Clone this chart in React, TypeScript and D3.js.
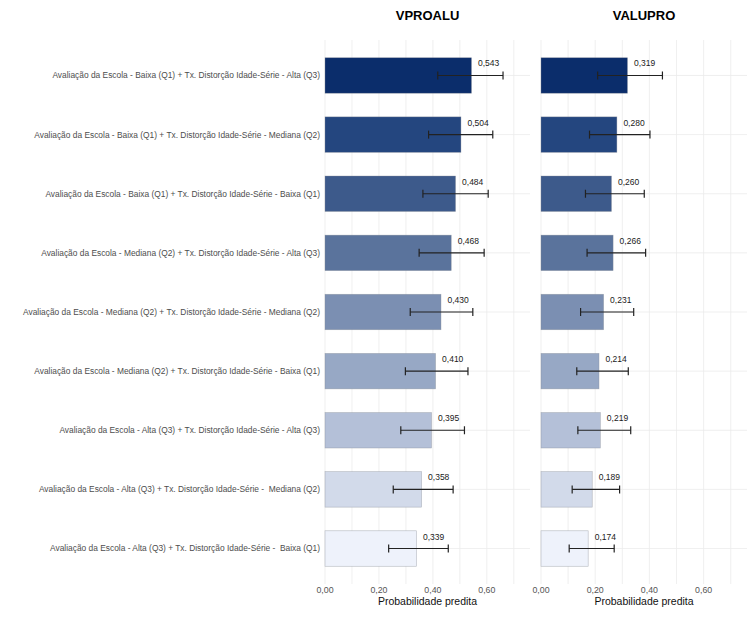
import React from "react";
import * as d3 from "d3";

const categories = [
  "Avaliação da Escola - Baixa (Q1) + Tx. Distorção Idade-Série - Alta (Q3)",
  "Avaliação da Escola - Baixa (Q1) + Tx. Distorção Idade-Série - Mediana (Q2)",
  "Avaliação da Escola - Baixa (Q1) + Tx. Distorção Idade-Série - Baixa (Q1)",
  "Avaliação da Escola - Mediana (Q2) + Tx. Distorção Idade-Série - Alta (Q3)",
  "Avaliação da Escola - Mediana (Q2) + Tx. Distorção Idade-Série - Mediana (Q2)",
  "Avaliação da Escola - Mediana (Q2) + Tx. Distorção Idade-Série - Baixa (Q1)",
  "Avaliação da Escola - Alta (Q3) + Tx. Distorção Idade-Série - Alta (Q3)",
  "Avaliação da Escola - Alta (Q3) + Tx. Distorção Idade-Série -  Mediana (Q2)",
  "Avaliação da Escola - Alta (Q3) + Tx. Distorção Idade-Série -  Baixa (Q1)",
];

const vproaluValues = [0.543, 0.504, 0.484, 0.468, 0.43, 0.41, 0.395, 0.358, 0.339];
const vproaluLow = [0.418, 0.384, 0.363, 0.349, 0.316, 0.298, 0.281, 0.253, 0.236];
const vproaluHigh = [0.66, 0.622, 0.605, 0.59, 0.548, 0.53, 0.517, 0.475, 0.457];

const valuproValues = [0.319, 0.28, 0.26, 0.266, 0.231, 0.214, 0.219, 0.189, 0.174];
const valuproLow = [0.209, 0.179, 0.164, 0.17, 0.146, 0.132, 0.136, 0.115, 0.104];
const valuproHigh = [0.448, 0.402, 0.381, 0.386, 0.342, 0.322, 0.331, 0.29, 0.27];

const barColors = [
  "#0b2d6b",
  "#24467f",
  "#3d5a8b",
  "#5a739c",
  "#7b8fb2",
  "#97a8c5",
  "#b4c0d8",
  "#d2daea",
  "#eef2fb",
];

const panelTitles = ["VPROALU", "VALUPRO"];
const tickValues = [0, 0.2, 0.4, 0.6];
const gridValues = [0, 0.1, 0.2, 0.3, 0.4, 0.5, 0.6, 0.7];
const axisTitle = "Probabilidade predita";

const fmt = (v: number, d: number) => v.toFixed(d).replace(".", ",");

const W = 756;
const H = 630;
const top = 40;
const bottom = 584;
const panels = [
  { x0: 325, x1: 530 },
  { x0: 541, x1: 747 },
];
const FONT = "Liberation Sans, Arial, sans-serif";

function Panel({ idx, values, low, high }: { idx: number; values: number[]; low: number[]; high: number[] }) {
  const p = panels[idx];
  const x = d3.scaleLinear().domain([0, 0.76]).range([p.x0, p.x1]);
  const y = d3.scaleBand<string>().domain(categories).range([top, bottom]).paddingInner(0.4).paddingOuter(0.3);
  const bw = y.bandwidth();
  return (
    <g>
      {gridValues.map((g) => (
        <line key={"v" + g} x1={x(g)} x2={x(g)} y1={top} y2={bottom} stroke="#ebebeb" strokeWidth={0.8} />
      ))}
      {categories.map((c) => {
        const cy = (y(c) as number) + bw / 2;
        return <line key={"h" + c} x1={p.x0} x2={p.x1} y1={cy} y2={cy} stroke="#ebebeb" strokeWidth={0.8} />;
      })}
      {categories.map((c, i) => {
        const yy = y(c) as number;
        const cy = yy + bw / 2;
        return (
          <g key={"b" + i}>
            <rect
              x={x(0)}
              y={yy}
              width={x(values[i]) - x(0)}
              height={bw}
              fill={barColors[i]}
              stroke="#8a8f99"
              strokeOpacity={0.6}
              strokeWidth={0.6}
            />
            <line x1={x(low[i])} x2={x(high[i])} y1={cy} y2={cy} stroke="#222" strokeWidth={1.2} />
            <line x1={x(low[i])} x2={x(low[i])} y1={cy - 4} y2={cy + 4} stroke="#222" strokeWidth={1.2} />
            <line x1={x(high[i])} x2={x(high[i])} y1={cy - 4} y2={cy + 4} stroke="#222" strokeWidth={1.2} />
            <text x={x(values[i]) + 6.5} y={cy - 9} fontSize={8.5} fill="#1a1a1a" fontFamily={FONT}>
              {fmt(values[i], 3)}
            </text>
          </g>
        );
      })}
      {tickValues.map((t) => (
        <text key={"t" + t} x={x(t)} y={593} fontSize={8.8} fill="#555" textAnchor="middle" fontFamily={FONT}>
          {fmt(t, 2)}
        </text>
      ))}
      <text x={(p.x0 + p.x1) / 2} y={605} fontSize={10.5} fill="#111" textAnchor="middle" fontFamily={FONT}>
        {axisTitle}
      </text>
      <text x={(p.x0 + p.x1) / 2} y={20} fontSize={13} fontWeight="bold" fill="#000" textAnchor="middle" fontFamily={FONT}>
        {panelTitles[idx]}
      </text>
    </g>
  );
}

export default function App() {
  const y = d3.scaleBand<string>().domain(categories).range([top, bottom]).paddingInner(0.4).paddingOuter(0.3);
  return (
    <svg width={W} height={H} style={{ position: "absolute", left: 0, top: 0, background: "#fff" }}>
      <rect x={0} y={0} width={W} height={H} fill="#fff" />
      {categories.map((c) => (
        <text
          key={c}
          x={320}
          y={(y(c) as number) + y.bandwidth() / 2}
          dy="0.35em"
          fontSize={8.4}
          fill="#4d4d4d"
          textAnchor="end"
          fontFamily={FONT}
          style={{ whiteSpace: "pre" }}
        >
          {c}
        </text>
      ))}
      <Panel idx={0} values={vproaluValues} low={vproaluLow} high={vproaluHigh} />
      <Panel idx={1} values={valuproValues} low={valuproLow} high={valuproHigh} />
    </svg>
  );
}
